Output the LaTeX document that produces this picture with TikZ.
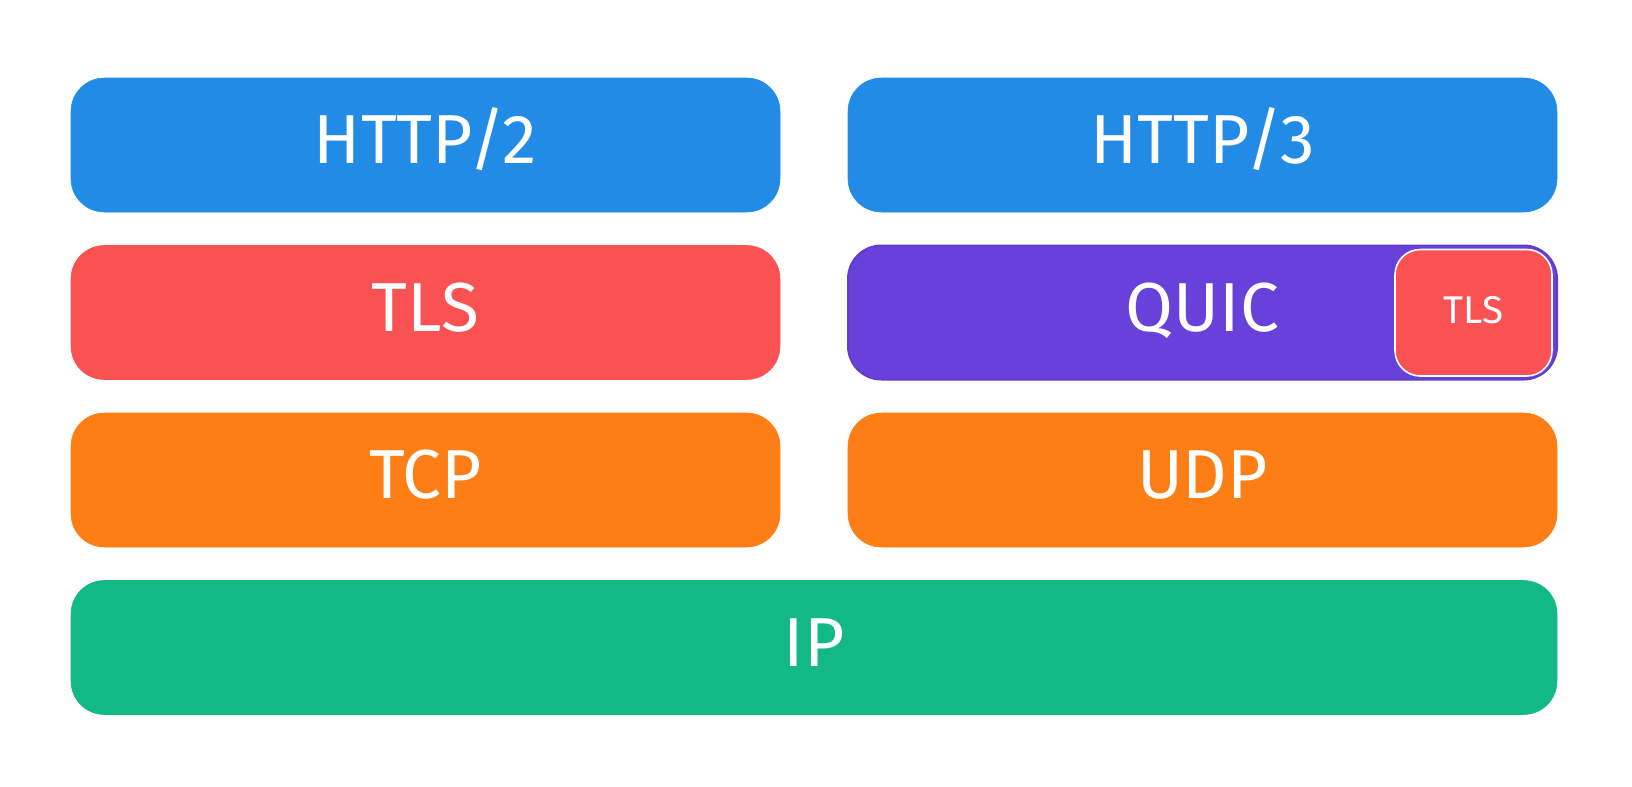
\documentclass[tikz,border=0pt]{standalone}
\usepackage{fontspec}
\setmainfont{Fira Sans}
\usetikzlibrary{positioning, calc}

\begin{document}
\begin{tikzpicture}[x=0.75pt,y=0.75pt,yscale=-1,xscale=1,
	layer/.style={rounded corners=25pt},
	label/.style={text=white, anchor=base, inner sep=0.75pt, font=\fontsize{52}{60}\selectfont},
	smalllabel/.style={text=white, anchor=base, inner sep=0.75pt, font=\fontsize{29}{34}\selectfont}]
	\useasboundingbox (0,0) rectangle (1632,786);
	
	%Shape: Rounded Rect [id:http2]
	\draw  [layer, fill={rgb, 255:red, 34; green, 139; blue, 230 }, draw={rgb, 255:red, 34; green, 139; blue, 230 }] (71,78) rectangle (780,212);
	%Shape: Rounded Rect [id:http3]
	\draw  [layer, fill={rgb, 255:red, 34; green, 139; blue, 230 }, draw={rgb, 255:red, 34; green, 139; blue, 230 }] (848,78) rectangle (1557,212);
	%Shape: Rounded Rect [id:tls]
	\draw  [layer, fill={rgb, 255:red, 250; green, 82; blue, 82 }, draw={rgb, 255:red, 250; green, 82; blue, 82 }] (71,245.5) rectangle (780,379.5);
	%Shape: Rounded Rect [id:quic]
	\draw  [layer, fill={rgb, 255:red, 103; green, 65; blue, 217 }, draw={rgb, 255:red, 97; green, 60; blue, 207 }, line width=1.5pt] (848,245.5) rectangle (1557,379.5);
	%Shape: Rounded Rect [id:quictls]
	\draw  [rounded corners=19pt, fill={rgb, 255:red, 250; green, 82; blue, 82 }, draw=white, line width=1.2pt] (1395,249.5) rectangle (1552,376);
	%Shape: Rounded Rect [id:tcp]
	\draw  [layer, fill={rgb, 255:red, 253; green, 126; blue, 20 }, draw={rgb, 255:red, 253; green, 126; blue, 20 }] (71,413) rectangle (780,547);
	%Shape: Rounded Rect [id:udp]
	\draw  [layer, fill={rgb, 255:red, 253; green, 126; blue, 20 }, draw={rgb, 255:red, 253; green, 126; blue, 20 }] (848,413) rectangle (1557,547);
	%Shape: Rounded Rect [id:ip]
	\draw  [layer, fill={rgb, 255:red, 18; green, 184; blue, 134 }, draw={rgb, 255:red, 18; green, 184; blue, 134 }] (71,580.5) rectangle (1557,714.5);
	
	% Text Node
	\node (http2text) [label] at (425.5,163) {HTTP/2};
	% Text Node
	\node (http3text) [label] at (1202.5,163) {HTTP/3};
	% Text Node
	\node (tlstext) [label] at (425.5,331) {TLS};
	% Text Node
	\node (quictext) [label] at (1202.5,331) {QUIC};
	% Text Node
	\node (quictlstext) [smalllabel] at (1473.5,323) {TLS};
	% Text Node
	\node (tcptext) [label] at (425.5,498.5) {TCP};
	% Text Node
	\node (udptext) [label] at (1202.5,498.5) {UDP};
	% Text Node
	\node (iptext) [label] at (814,666) {IP};
	
\end{tikzpicture}
\end{document}
